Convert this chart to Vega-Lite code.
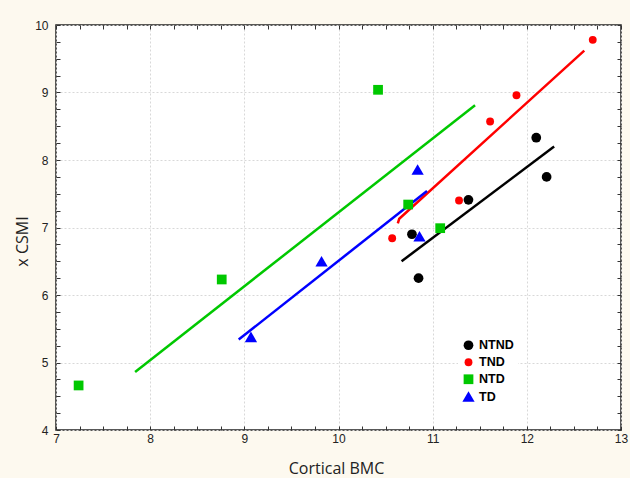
{
  "$schema": "https://vega.github.io/schema/vega-lite/v6.json",
  "width": 565,
  "height": 405,
  "autosize": {"type": "none"},
  "padding": {"left": 56, "top": 25, "right": 9, "bottom": 48},
  "background": "#fdf9ef",
  "config": {
    "view": {"fill": "white", "stroke": "#222", "strokeWidth": 1.5},
    "axis": {
      "labelFont": "Liberation Sans",
      "labelFontSize": 12,
      "labelColor": "#222",
      "tickColor": "#333",
      "tickWidth": 1,
      "domain": false,
      "titleFont": "Open Sans",
      "titleFontSize": 16,
      "titleFontWeight": "normal",
      "titleColor": "#222"
    },
    "legend": {
      "fillColor": "white",
      "padding": 4,
      "rowPadding": 4,
      "labelFont": "Liberation Sans",
      "labelFontSize": 12.5,
      "labelFontWeight": "bold",
      "labelColor": "#000",
      "symbolStrokeWidth": 0,
      "labelOffset": 4
    }
  },
  "datasets": {
    "points": [
      {"x": 10.78, "y": 6.90, "group": "NTND"},
      {"x": 10.85, "y": 6.25, "group": "NTND"},
      {"x": 11.38, "y": 7.41, "group": "NTND"},
      {"x": 12.10, "y": 8.33, "group": "NTND"},
      {"x": 12.21, "y": 7.75, "group": "NTND"},
      {"x": 10.57, "y": 6.84, "group": "TND"},
      {"x": 11.28, "y": 7.40, "group": "TND"},
      {"x": 11.61, "y": 8.57, "group": "TND"},
      {"x": 11.89, "y": 8.96, "group": "TND"},
      {"x": 12.70, "y": 9.78, "group": "TND"},
      {"x": 7.24, "y": 4.66, "group": "NTD"},
      {"x": 8.76, "y": 6.23, "group": "NTD"},
      {"x": 10.42, "y": 9.04, "group": "NTD"},
      {"x": 10.74, "y": 7.34, "group": "NTD"},
      {"x": 11.08, "y": 6.99, "group": "NTD"},
      {"x": 9.07, "y": 5.38, "group": "TD"},
      {"x": 9.82, "y": 6.50, "group": "TD"},
      {"x": 10.84, "y": 7.86, "group": "TD"},
      {"x": 10.86, "y": 6.87, "group": "TD"}
    ],
    "lines": [
      {"x": 10.67, "y": 6.50, "group": "NTND"},
      {"x": 12.29, "y": 8.20, "group": "NTND"},
      {"x": 10.63, "y": 7.06, "group": "TND"},
      {"x": 10.645, "y": 7.13, "group": "TND"},
      {"x": 12.61, "y": 9.62, "group": "TND"},
      {"x": 7.84, "y": 4.86, "group": "NTD"},
      {"x": 11.45, "y": 8.81, "group": "NTD"},
      {"x": 8.94, "y": 5.34, "group": "TD"},
      {"x": 10.94, "y": 7.54, "group": "TD"}
    ]
  },
  "layer": [
    {
      "data": {"name": "lines"},
      "mark": {"type": "line", "strokeWidth": 2.5},
      "encoding": {
        "x": {
          "field": "x", "type": "quantitative",
          "scale": {"domain": [7, 13], "nice": false, "zero": false},
          "axis": {
            "orient": "bottom",
            "title": "Cortical BMC",
            "values": [7,7.25,7.5,7.75,8,8.25,8.5,8.75,9,9.25,9.5,9.75,10,10.25,10.5,10.75,11,11.25,11.5,11.75,12,12.25,12.5,12.75,13],
            "format": ".2~f",
            "labelExpr": "datum.value % 1 === 0 ? datum.label : ''",
            "tickSize": -4,
            "labelPadding": 7,
            "grid": true,
            "gridDash": [2, 2],
            "gridColor": "#d8d8d8",
            "gridOpacity": {"condition": {"test": "datum.value % 1 === 0", "value": 1}, "value": 0},
            "labelFlush": false,
            "titleX": 280,
            "titleY": 43,
            "titleBaseline": "alphabetic"
          }
        },
        "y": {
          "field": "y", "type": "quantitative",
          "scale": {"domain": [4, 10], "nice": false, "zero": false},
          "axis": {
            "orient": "left",
            "title": "x CSMI",
            "values": [4,4.25,4.5,4.75,5,5.25,5.5,5.75,6,6.25,6.5,6.75,7,7.25,7.5,7.75,8,8.25,8.5,8.75,9,9.25,9.5,9.75,10],
            "format": ".2~f",
            "labelExpr": "datum.value % 1 === 0 ? datum.label : ''",
            "tickSize": -4,
            "labelPadding": 12,
            "grid": true,
            "gridDash": [2, 2],
            "gridColor": "#d8d8d8",
            "gridOpacity": {"condition": {"test": "datum.value % 1 === 0", "value": 1}, "value": 0},
            "labelFlush": false,
            "titleX": -34,
            "titleY": 216,
            "titleAngle": -90,
            "titleAlign": "center",
            "titleBaseline": "middle"
          }
        },
        "stroke": {
          "field": "group", "type": "nominal",
          "scale": {"domain": ["TD", "NTD", "TND", "NTND"], "range": ["#0000ff", "#00c800", "#ff0000", "#000000"]},
          "legend": null
        },
        "detail": {"field": "group"}
      }
    },
    {
      "data": {"name": "points"},
      "mark": {"type": "point", "filled": true, "opacity": 1},
      "encoding": {
        "x": {
          "field": "x", "type": "quantitative",
          "axis": {
            "orient": "top",
            "title": null,
            "labels": false,
            "grid": false,
            "values": [7,7.25,7.5,7.75,8,8.25,8.5,8.75,9,9.25,9.5,9.75,10,10.25,10.5,10.75,11,11.25,11.5,11.75,12,12.25,12.5,12.75,13],
            "tickSize": -4
          }
        },
        "y": {
          "field": "y", "type": "quantitative",
          "axis": {
            "orient": "right",
            "title": null,
            "labels": false,
            "grid": false,
            "values": [4,4.25,4.5,4.75,5,5.25,5.5,5.75,6,6.25,6.5,6.75,7,7.25,7.5,7.75,8,8.25,8.5,8.75,9,9.25,9.5,9.75,10],
            "tickSize": -4
          }
        },
        "color": {
          "field": "group", "type": "nominal",
          "scale": {"domain": ["NTND", "TND", "NTD", "TD"], "range": ["#000000", "#ff0000", "#00c800", "#0000ff"]},
          "legend": {"title": null, "orient": "none", "legendX": 402, "legendY": 310}
        },
        "shape": {
          "field": "group", "type": "nominal",
          "scale": {"domain": ["NTND", "TND", "NTD", "TD"], "range": ["circle", "circle", "square", "triangle-up"]},
          "legend": {"title": null, "orient": "none", "legendX": 402, "legendY": 310}
        },
        "size": {
          "field": "group", "type": "nominal",
          "scale": {"type": "ordinal", "domain": ["NTND", "TND", "NTD", "TD"], "range": [95, 62, 95, 150]},
          "legend": {"title": null, "orient": "none", "legendX": 402, "legendY": 310}
        }
      }
    }
  ],
  "resolve": {"axis": {"x": "independent", "y": "independent"}}
}
